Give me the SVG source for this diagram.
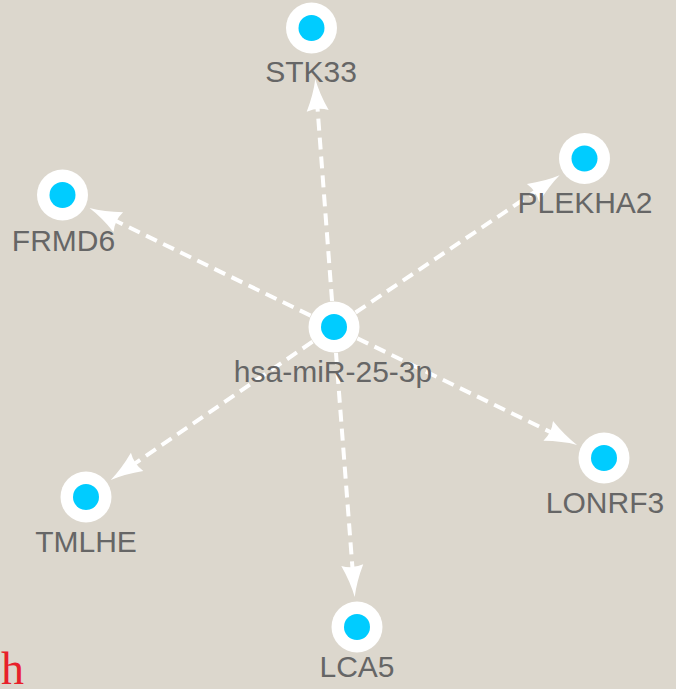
<svg xmlns="http://www.w3.org/2000/svg" xmlns:xlink="http://www.w3.org/1999/xlink" width="676" height="689" viewBox="0 0 676 689">
<style>
.edge{stroke:#ffffff;stroke-width:4;stroke-dasharray:12 7;fill:none}
.ah{fill:#ffffff}
.outer{fill:#ffffff}
.inner{fill:#00CCFF}
.lbl{font-family:"Liberation Sans",Arial,Helvetica,sans-serif;font-size:30px;fill:#666666;text-anchor:middle}
</style>
<defs>
<path id="ahp" d="M0,0 Q-15,-3 -32,-11 Q-28,0 -32,11 Q-15,3 0,0 Z"/>
</defs>
<rect width="676" height="689" fill="#DCD7CD"/>
<g id="edges">
<line class="edge" x1="332.05" y1="301.07" x2="317.2" y2="103.8"/>
<use xlink:href="#ahp" href="#ahp" class="ah" transform="translate(315.3,78.9) rotate(-94.3)"/>
<line class="edge" x1="355.57" y1="312.49" x2="538.87" y2="189.2"/>
<use xlink:href="#ahp" href="#ahp" class="ah" transform="translate(559.61,175.24) rotate(-33.93)"/>
<line class="edge" x1="310.62" y1="315.63" x2="111.96" y2="219.05"/>
<use xlink:href="#ahp" href="#ahp" class="ah" transform="translate(89.48,208.12) rotate(-154.07)"/>
<line class="edge" x1="357.39" y1="338.35" x2="554.52" y2="433.99"/>
<use xlink:href="#ahp" href="#ahp" class="ah" transform="translate(577.01,444.9) rotate(25.88)"/>
<line class="edge" x1="312.55" y1="341.7" x2="131.37" y2="465.9"/>
<use xlink:href="#ahp" href="#ahp" class="ah" transform="translate(110.74,480.04) rotate(145.57)"/>
<line class="edge" x1="335.99" y1="352.92" x2="352.8" y2="572.16"/>
<use xlink:href="#ahp" href="#ahp" class="ah" transform="translate(354.71,597.09) rotate(85.62)"/>
</g>
<g id="node-center">
<circle class="outer" cx="334" cy="327" r="25.5"/>
<circle class="inner" cx="334" cy="327" r="13"/>
<text class="lbl" x="333" y="382">hsa-miR-25-3p</text>
</g>
<g id="node-STK33">
<circle class="outer" cx="311.5" cy="28" r="25.5"/>
<circle class="inner" cx="311.5" cy="28" r="13"/>
<text class="lbl" x="311" y="82">STK33</text>
</g>
<g id="node-PLEKHA2">
<circle class="outer" cx="584.5" cy="158.5" r="25.5"/>
<circle class="inner" cx="584.5" cy="158.5" r="13"/>
<text class="lbl" x="585" y="213">PLEKHA2</text>
</g>
<g id="node-FRMD6">
<circle class="outer" cx="62.5" cy="195" r="25.5"/>
<circle class="inner" cx="62.5" cy="195" r="13"/>
<text class="lbl" x="63.5" y="251">FRMD6</text>
</g>
<g id="node-LONRF3">
<circle class="outer" cx="604" cy="458" r="25.5"/>
<circle class="inner" cx="604" cy="458" r="13"/>
<text class="lbl" x="605" y="513">LONRF3</text>
</g>
<g id="node-TMLHE">
<circle class="outer" cx="86" cy="497" r="25.5"/>
<circle class="inner" cx="86" cy="497" r="13"/>
<text class="lbl" x="86" y="552">TMLHE</text>
</g>
<g id="node-LCA5">
<circle class="outer" cx="357" cy="627" r="25.5"/>
<circle class="inner" cx="357" cy="627" r="13"/>
<text class="lbl" x="357" y="677">LCA5</text>
</g>
<text x="1" y="684" font-family="'Liberation Serif','Times New Roman',serif" font-size="46" fill="#E8202A">h</text>
</svg>
